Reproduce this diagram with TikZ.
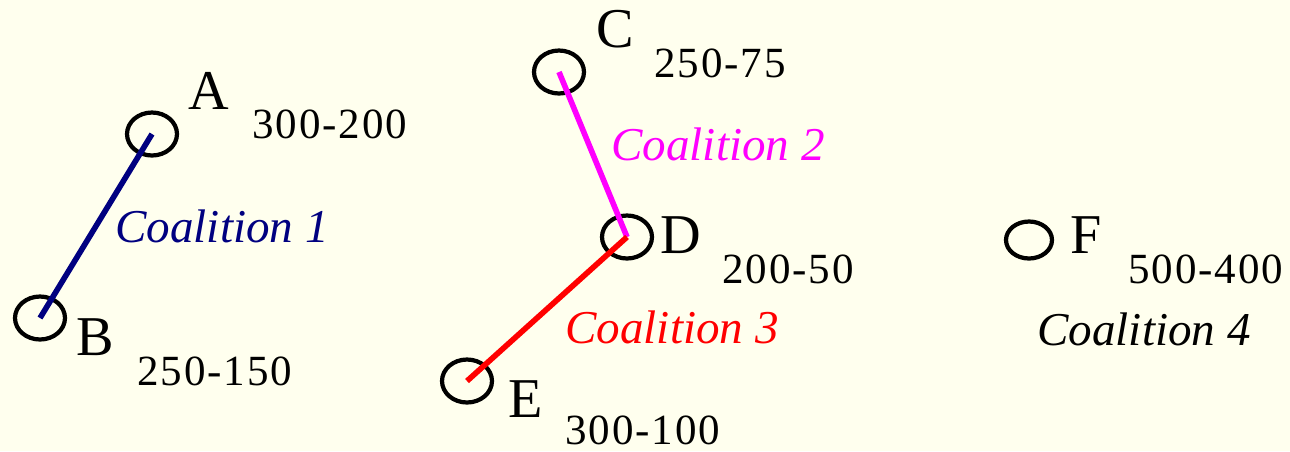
\documentclass[tikz,border=0pt]{standalone}
\usepackage{fontspec}
\setmainfont{Liberation Serif}
\usetikzlibrary{shapes.geometric}
\definecolor{PaperCream}{HTML}{FFFFEE}
\definecolor{CoalNavy}{HTML}{000080}
\definecolor{CoalMagenta}{HTML}{FF00FF}
\definecolor{CoalRed}{HTML}{FF0000}
% spread the payoff digits a little
\def\payspread#1{\ifx#1\relax\else#1\kern1.1pt\expandafter\payspread\fi}
\tikzset{
    % Player nodes - open ellipses
    player/.style={
        ellipse,
        draw=black,
        line width=2.4pt,
        minimum width=1.0cm,
        minimum height=0.86cm,
        inner sep=0pt
    },
    % Coalition links
    link/.style={
        line width=3.2pt
    },
    % Text styles
    playername/.style={
        anchor=base west,
        inner sep=0pt,
        font=\fontsize{32}{36}\selectfont
    },
    payoff/.style={
        anchor=base west,
        inner sep=0pt,
        font=\fontsize{24.5}{28}\selectfont
    },
    coalname/.style={
        anchor=base west,
        inner sep=0pt,
        font=\itshape\fontsize{26.8}{30}\selectfont
    }
}
\begin{document}
\begin{tikzpicture}[x=0.02cm, y=-0.02cm]
    % Background
    \fill[PaperCream] (0,0) rectangle (1290,451);
    \useasboundingbox (0,0) rectangle (1290,451);

    % Players
    \node[player] (A) at (152,134) {};
    \node[player] (B) at (40,318) {};
    \node[player] (C) at (559,72) {};
    \node[player] (D) at (627,237) {};
    \node[player] (E) at (467,381) {};
    \node[player, minimum width=0.92cm, minimum height=0.74cm] (F) at (1029,240) {};

    % Coalition links
    \draw[link, CoalNavy] (A.center) -- (B.center);
    \draw[link, CoalMagenta] (C.center) -- (D.center);
    \draw[link, CoalRed] (D.center) -- (E.center);

    % Names
    \node[playername] (Aname) at (188,109) {A};
    \node[playername] (Bname) at (76,355) {B};
    \node[playername] (Cname) at (596,47) {C};
    \node[playername] (Dname) at (660,253) {D};
    \node[playername] (Ename) at (508,417) {E};
    \node[playername] (Fname) at (1070,253) {F};

    % Payoffs
    \node[payoff] (Apay) at (252,138) {\payspread 300-200\relax};
    \node[payoff] (Bpay) at (137,385) {\payspread 250-150\relax};
    \node[payoff] (Cpay) at (654,77) {\payspread 250-75\relax};
    \node[payoff] (Dpay) at (722,283) {\payspread 200-50\relax};
    \node[payoff] (Epay) at (565,444) {\payspread 300-100\relax};
    \node[payoff] (Fpay) at (1128,283) {\payspread 500-400\relax};

    % Coalitions
    \node[coalname, CoalNavy] (coal1) at (115,242) {Coalition 1};
    \node[coalname, CoalMagenta] (coal2) at (611,160) {Coalition 2};
    \node[coalname, CoalRed] (coal3) at (565,343) {Coalition 3};
    \node[coalname] (coal4) at (1037,345) {Coalition 4};
\end{tikzpicture}
\end{document}
